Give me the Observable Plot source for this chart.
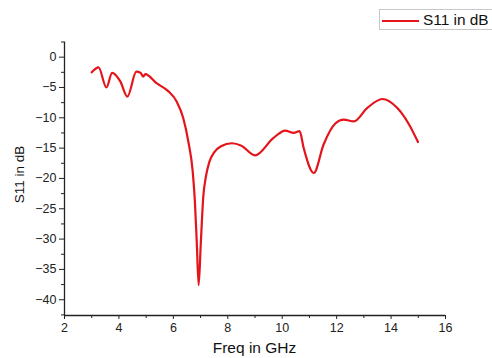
<!DOCTYPE html>
<html>
<head>
<meta charset="utf-8">
<script src="https://cdn.jsdelivr.net/npm/d3@7"></script>
<script src="https://cdn.jsdelivr.net/npm/@observablehq/plot@0.6"></script>
<style>
  html, body { margin: 0; padding: 0; background: #fff; }
  #wrap { position: relative; width: 492px; height: 358px; overflow: hidden; font-family: "Liberation Sans", Arial, sans-serif; }
  #legend { position: absolute; left: 379px; top: 9px; width: 120px; height: 21px; border: 1px solid #c8c8c8; box-sizing: border-box; background: #fff; }
  #legend .sw { position: absolute; left: 2px; top: 10px; width: 37px; height: 2px; background: #e5141b; }
  #legend .lb { position: absolute; left: 43px; top: 1px; font-size: 15.4px; color: #111; white-space: nowrap; }
</style>
</head>
<body>
<div id="wrap"><div id="legend"><div class="sw"></div><div class="lb">S11 in dB</div></div></div>
<script>
const freqGHz = [3.0, 3.25, 3.54, 3.75, 4.05, 4.31, 4.64, 4.8, 4.89, 4.97, 5.38, 5.81, 6.12, 6.36, 6.55, 6.71, 6.79, 6.86, 6.93, 7.01, 7.1, 7.2, 7.32, 7.5, 7.75, 8.15, 8.5, 9.0, 9.68, 10.11, 10.42, 10.64, 10.79, 11.16, 11.52, 11.96, 12.26, 12.63, 13.12, 13.68, 14.23, 14.66, 14.99];
const s11dB   = [-2.5, -1.7, -5.0, -2.6, -4.0, -6.5, -2.4, -2.6, -3.2, -2.8, -4.3, -5.6, -7.3, -10.0, -13.9, -18.8, -23.7, -30.5, -37.6, -30.5, -23.0, -19.6, -17.3, -15.7, -14.7, -14.2, -14.6, -16.2, -13.3, -12.1, -12.5, -12.2, -15.0, -19.1, -14.4, -10.9, -10.3, -10.6, -8.4, -6.9, -8.4, -11.1, -14.0];
const xTicks = [2, 4, 6, 8, 10, 12, 14, 16];
const xMinor = [3, 5, 7, 9, 11, 13, 15];
const yTicks = [0, -5, -10, -15, -20, -25, -30, -35, -40];
const yMinor = [2.5, -2.5, -7.5, -12.5, -17.5, -22.5, -27.5, -32.5, -37.5, -42.5];
const xDomain = [2, 16];
const yDomain = [-42.6, 2.5];

const data = freqGHz.map((f, i) => ({f, s: s11dB[i]}));
const fmt = d => (d < 0 ? "\u2212" + Math.abs(d) : String(d));

const chart = Plot.plot({
  width: 492,
  height: 358,
  marginLeft: 64,
  marginRight: 47,
  marginTop: 41.5,
  marginBottom: 43,
  style: {fontFamily: "Liberation Sans, Arial, sans-serif", fontSize: "12.5px", color: "#222", background: "transparent"},
  x: {domain: xDomain},
  y: {domain: yDomain},
  marks: [
    Plot.axisX(xTicks, {tickSize: 4, tickPadding: 4, tickFormat: fmt, fontSize: 12.5, label: null, stroke: "#222"}),
    Plot.axisX(xMinor, {tickSize: 3, tickFormat: () => "", label: null, stroke: "#222"}),
    Plot.axisY(yTicks, {tickSize: 5, tickPadding: 3, tickFormat: fmt, fontSize: 12.5, label: null, stroke: "#222"}),
    Plot.axisY(yMinor, {tickSize: 3, tickFormat: () => "", label: null, stroke: "#222"}),
    Plot.ruleX([xDomain[0]], {stroke: "#222", strokeWidth: 1.3}),
    Plot.ruleY([yDomain[0]], {stroke: "#222", strokeWidth: 1.3}),
    Plot.line(data, {x: "f", y: "s", stroke: "#e5141b", strokeWidth: 2.2, curve: "monotone-x"})
  ]
});

const wrap = document.getElementById("wrap");
wrap.insertBefore(chart, wrap.firstChild);

const svg = d3.select(chart);
svg.append("text")
  .attr("x", 254.5).attr("y", 353)
  .attr("text-anchor", "middle")
  .attr("font-size", 15.5)
  .attr("fill", "#111")
  .attr("font-family", "Liberation Sans, Arial, sans-serif")
  .text("Freq in GHz");
svg.append("text")
  .attr("transform", "translate(23.5,174.5) rotate(-90)")
  .attr("text-anchor", "middle")
  .attr("font-size", 13.5)
  .attr("fill", "#111")
  .attr("font-family", "Liberation Sans, Arial, sans-serif")
  .text("S11 in dB");
</script>
</body>
</html>
